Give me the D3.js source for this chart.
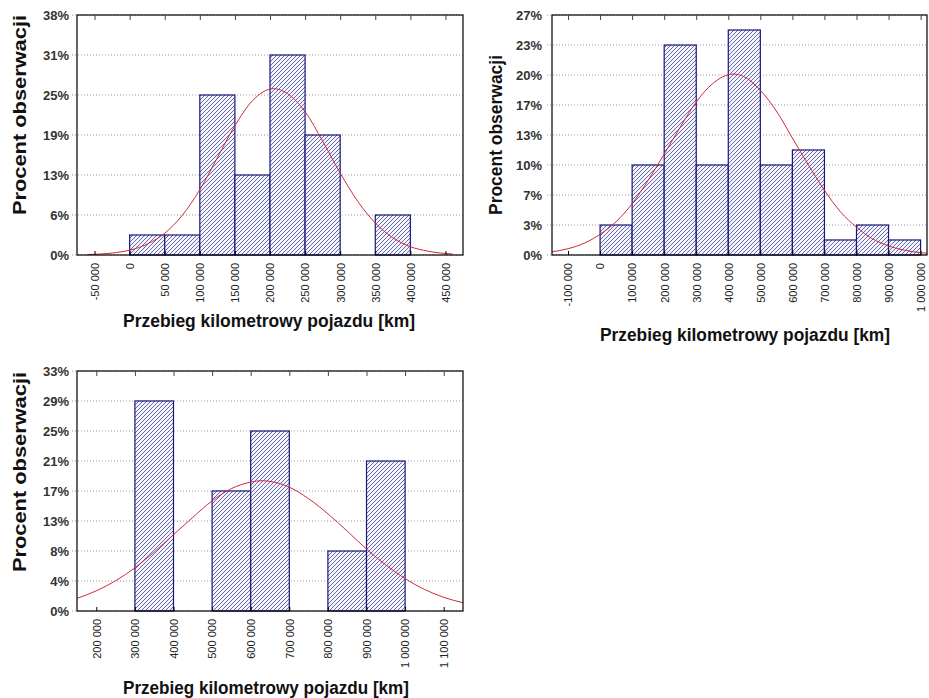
<!DOCTYPE html>
<html>
<head>
<meta charset="utf-8">
<script src="https://cdn.jsdelivr.net/npm/d3@7"></script>
<style>
body { margin: 0; background: #fff; }
svg { display: block; font-family: "Liberation Sans", Arial, sans-serif; }
</style>
</head>
<body>
<svg id="wykres" width="929" height="698"></svg>
<script>
/*
Histogramy przebiegu pojazdów z dopasowanym rozkładem normalnym
wartości
*/

// wykres 1 (lewy górny)
const binWidth1 = 50000;
const binStart1 = [0, 50000, 100000, 150000, 200000, 250000, 300000, 350000];
const pct1 = [3.125, 3.125, 25, 12.5, 31.25, 18.75, 0, 6.25];
const xTicks1 = [-50000, 0, 50000, 100000, 150000, 200000, 250000, 300000, 350000, 400000, 450000];
const yTicks1 = [0, 6.25, 12.5, 18.75, 25, 31.25, 37.5];
const curveKm1 = [-60000, -25000, 0, 25000, 50000, 75000, 100000, 125000, 150000, 175000, 205000, 225000, 250000, 275000, 300000, 325000, 350000, 375000, 400000, 425000, 460000];
const curvePct1 = [0.07, 0.3, 0.75, 1.7, 3.4, 6.2, 10.2, 15.2, 20.2, 24.1, 26.0, 25.2, 22.4, 17.8, 12.8, 8.4, 5.0, 2.7, 1.3, 0.6, 0.15];

// wykres 2 (prawy górny)
const binWidth2 = 100000;
const binStart2 = [0, 100000, 200000, 300000, 400000, 500000, 600000, 700000, 800000, 900000];
const pct2 = [3.33, 10, 23.33, 10, 25, 10, 11.67, 1.67, 3.33, 1.67];
const xTicks2 = [-100000, 0, 100000, 200000, 300000, 400000, 500000, 600000, 700000, 800000, 900000, 1000000];
const yTicks2 = [0, 3.333, 6.667, 10, 13.333, 16.667, 20, 23.333, 26.667];
const curveKm2 = [-150000, -100000, -50000, 0, 50000, 100000, 150000, 200000, 250000, 300000, 350000, 415000, 450000, 500000, 550000, 600000, 650000, 700000, 750000, 800000, 850000, 900000, 950000, 1000000, 1020000];
const curvePct2 = [0.35, 0.7, 1.3, 2.3, 3.7, 5.7, 8.3, 11.2, 14.2, 17.0, 19.0, 20.1, 19.8, 18.3, 16.0, 13.0, 10.0, 7.2, 4.8, 3.1, 1.8, 1.0, 0.53, 0.26, 0.19];

// wykres 3 (lewy dolny)
const binWidth3 = 100000;
const binStart3 = [300000, 400000, 500000, 600000, 700000, 800000, 900000];
const pct3 = [29.17, 0, 16.67, 25, 0, 8.33, 20.83];
const xTicks3 = [200000, 300000, 400000, 500000, 600000, 700000, 800000, 900000, 1000000, 1100000];
const yTicks3 = [0, 4.167, 8.333, 12.5, 16.667, 20.833, 25, 29.167, 33.333];
const curveKm3 = [150000, 200000, 250000, 300000, 350000, 400000, 450000, 500000, 550000, 600000, 630000, 650000, 700000, 750000, 800000, 850000, 900000, 950000, 1000000, 1050000, 1100000, 1150000];
const curvePct3 = [1.75, 2.8, 4.2, 6.0, 8.2, 10.6, 13.0, 15.3, 17.0, 17.9, 18.1, 18.0, 17.2, 15.6, 13.5, 11.1, 8.6, 6.4, 4.5, 3.0, 1.9, 1.15];

const xTitle = "Przebieg kilometrowy pojazdu [km]";
const yTitle = "Procent obserwacji";

const pl = d3.formatLocale({decimal: ",", thousands: " ", grouping: [3], currency: ["", ""], minus: "-"});
const fmtKm = pl.format(",d");
const fmtPct = d => Math.round(d) + "%";

const svg = d3.select("#wykres");
const defs = svg.append("defs");

// kreskowanie słupków
const pat = defs.append("pattern")
    .attr("id", "kreski")
    .attr("patternUnits", "userSpaceOnUse")
    .attr("width", 4).attr("height", 4);
pat.append("rect").attr("width", 4).attr("height", 4).attr("fill", "#f4f4fb");
pat.append("path")
    .attr("d", "M-1,1L1,-1M0,4L4,0M3,5L5,3")
    .attr("stroke", "#3a3a92")
    .attr("stroke-width", 0.75);

function histogram(p) {
    const g = svg.append("g");
    const x = d3.scaleLinear().domain(p.xDomain).range([p.left, p.right]);
    const y = d3.scaleLinear().domain([0, p.yTicks[p.yTicks.length - 1]]).range([p.bottom, p.top]);

    defs.append("clipPath").attr("id", "clip" + p.id)
        .append("rect")
        .attr("x", p.left).attr("y", p.top)
        .attr("width", p.right - p.left).attr("height", p.bottom - p.top);

    // siatka
    g.selectAll(".grid")
        .data(p.yTicks)
        .join("line")
        .attr("class", "grid")
        .attr("x1", p.left - 5).attr("x2", p.right)
        .attr("y1", d => y(d)).attr("y2", d => y(d))
        .attr("stroke", "#9a9a9a")
        .attr("stroke-dasharray", "1,2");

    // słupki
    const bars = p.binStart.map((s, i) => ({s: s, v: p.pct[i]})).filter(d => d.v > 0);
    g.selectAll(".bar")
        .data(bars)
        .join("rect")
        .attr("class", "bar")
        .attr("x", d => x(d.s))
        .attr("width", d => x(d.s + p.binWidth) - x(d.s))
        .attr("y", d => y(d.v))
        .attr("height", d => y(0) - y(d.v))
        .attr("fill", "url(#kreski)")
        .attr("stroke", "#17177a")
        .attr("stroke-width", 1.2);

    // krzywa normalna
    const line = d3.line()
        .x(d => x(d[0]))
        .y(d => y(d[1]))
        .curve(d3.curveMonotoneX);
    g.append("path")
        .datum(p.curveKm.map((k, i) => [k, p.curvePct[i]]))
        .attr("d", line)
        .attr("fill", "none")
        .attr("stroke", "#cf2a3e")
        .attr("stroke-width", 1)
        .attr("clip-path", "url(#clip" + p.id + ")");

    // ramka
    g.append("rect")
        .attr("x", p.left).attr("y", p.top)
        .attr("width", p.right - p.left).attr("height", p.bottom - p.top)
        .attr("fill", "none")
        .attr("stroke", "#000")
        .attr("stroke-width", 1.2);

    // oś X dolna
    const ax = g.append("g")
        .attr("transform", `translate(0,${p.bottom})`)
        .call(d3.axisBottom(x).tickValues(p.xTicks).tickFormat(fmtKm).tickSize(-4));
    ax.select(".domain").remove();
    ax.selectAll(".tick line").attr("stroke", "#000");
    ax.selectAll(".tick text")
        .attr("transform", "rotate(-90)")
        .attr("text-anchor", "end")
        .attr("x", -8).attr("y", 0).attr("dy", "0.35em")
        .attr("fill", "#222")
        .style("font-size", "11px")
        .style("font-family", "'Liberation Sans', Arial, sans-serif");

    // oś X górna (same znaczniki)
    const axTop = g.append("g")
        .attr("transform", `translate(0,${p.top})`)
        .call(d3.axisTop(x).tickValues(p.xTicks).tickFormat("").tickSize(-5));
    axTop.select(".domain").remove();
    axTop.selectAll(".tick line").attr("stroke", "#444");

    // oś Y
    const ay = g.append("g")
        .attr("transform", `translate(${p.left},0)`)
        .call(d3.axisLeft(y).tickValues(p.yTicks).tickFormat(fmtPct).tickSize(0).tickPadding(p.yPad));
    ay.select(".domain").remove();
    ay.selectAll(".tick text")
        .attr("fill", "#333")
        .style("font-size", "13px")
        .style("font-weight", "bold")
        .style("font-family", "'Liberation Sans', Arial, sans-serif");

    // tytuły osi
    g.append("text")
        .attr("transform", `translate(${p.yTitleX},${p.yTitleY}) rotate(-90)`)
        .attr("text-anchor", "middle")
        .attr("dy", "0.35em")
        .attr("textLength", p.yTitleLen)
        .attr("lengthAdjust", "spacingAndGlyphs")
        .style("font-size", "18px")
        .style("font-weight", "bold")
        .attr("fill", "#111")
        .text(yTitle);

    g.append("text")
        .attr("x", p.xTitleX).attr("y", p.xTitleY)
        .attr("text-anchor", "middle")
        .attr("textLength", p.xTitleLen)
        .attr("lengthAdjust", "spacingAndGlyphs")
        .style("font-size", "18px")
        .style("font-weight", "bold")
        .attr("fill", "#111")
        .text(xTitle);
}

histogram({
    id: 1, left: 77, right: 463, top: 15, bottom: 255, yPad: 8,
    xDomain: [-75000, 475000], xTicks: xTicks1, yTicks: yTicks1,
    binStart: binStart1, binWidth: binWidth1, pct: pct1,
    curveKm: curveKm1, curvePct: curvePct1,
    yTitleX: 20, yTitleY: 115, yTitleLen: 200,
    xTitleX: 269, xTitleY: 327, xTitleLen: 292
});

histogram({
    id: 2, left: 552, right: 927, top: 15, bottom: 255, yPad: 10,
    xDomain: [-150000, 1020000], xTicks: xTicks2, yTicks: yTicks2,
    binStart: binStart2, binWidth: binWidth2, pct: pct2,
    curveKm: curveKm2, curvePct: curvePct2,
    yTitleX: 496, yTitleY: 135, yTitleLen: 160,
    xTitleX: 745, xTitleY: 341, xTitleLen: 290
});

histogram({
    id: 3, left: 77, right: 463, top: 371, bottom: 611, yPad: 8,
    xDomain: [150000, 1150000], xTicks: xTicks3, yTicks: yTicks3,
    binStart: binStart3, binWidth: binWidth3, pct: pct3,
    curveKm: curveKm3, curvePct: curvePct3,
    yTitleX: 20, yTitleY: 472, yTitleLen: 200,
    xTitleX: 266, xTitleY: 694, xTitleLen: 286
});
</script>
</body>
</html>
